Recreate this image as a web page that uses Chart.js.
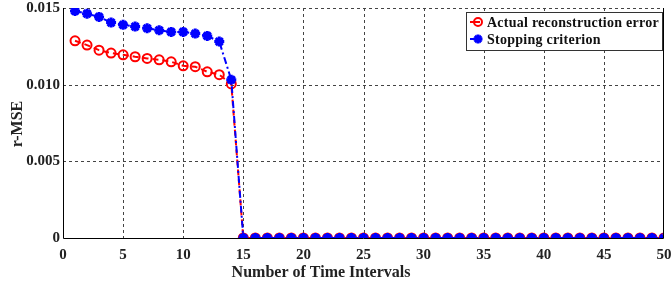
<!DOCTYPE html>
<html lang="en">
<head>
    <meta charset="UTF-8" />
    <title>r-MSE vs time intervals</title>
    <script src="https://cdn.jsdelivr.net/npm/chart.js"></script>
    <style>
        body { margin: 0; background: #fff; }
    </style>
</head>
<body>
    <canvas id="chart" width="672" height="290"></canvas>

    <script>
        const intervals = [1, 2, 3, 4, 5, 6, 7, 8, 9, 10, 11, 12, 13, 14, 15, 16, 17, 18, 19, 20,
            21, 22, 23, 24, 25, 26, 27, 28, 29, 30, 31, 32, 33, 34, 35, 36, 37, 38, 39, 40,
            41, 42, 43, 44, 45, 46, 47, 48, 49, 50];
        const actualError = [0.01286, 0.01258, 0.01225, 0.01206, 0.01195, 0.01182, 0.01171, 0.01162,
            0.01149, 0.01123, 0.01117, 0.01084, 0.01065, 0.01005,
            0, 0, 0, 0, 0, 0, 0, 0, 0, 0, 0, 0, 0, 0, 0, 0, 0, 0, 0, 0, 0, 0, 0, 0, 0, 0, 0, 0, 0, 0, 0, 0, 0, 0, 0, 0];
        const stopCriterion = [0.01481, 0.01463, 0.01442, 0.01405, 0.0139, 0.01379, 0.01368, 0.01355,
            0.01344, 0.01344, 0.01333, 0.01318, 0.01281, 0.01032,
            0, 0, 0, 0, 0, 0, 0, 0, 0, 0, 0, 0, 0, 0, 0, 0, 0, 0, 0, 0, 0, 0, 0, 0, 0, 0, 0, 0, 0, 0, 0, 0, 0, 0, 0, 0];
        const yTicks = [0, 0.005, 0.010, 0.015];
        const xTitle = 'Number of Time Intervals';
        const yTitle = 'r-MSE';

        const serif = "'Liberation Serif', 'Times New Roman', serif";

        // dashed grid under the data (top edge is dashed too)
        const gridPlugin = {
            id: 'mgrid',
            beforeDatasetsDraw(chart) {
                const { ctx, chartArea: a, scales: { x, y } } = chart;
                ctx.save();
                ctx.strokeStyle = '#444';
                ctx.lineWidth = 1;
                ctx.setLineDash([3, 3]);
                x.ticks.forEach(t => {
                    const px = Math.round(x.getPixelForValue(t.value)) + 0.5;
                    if (px <= a.left + 1 || px >= a.right - 1) return;
                    ctx.beginPath(); ctx.moveTo(px, a.top); ctx.lineTo(px, a.bottom); ctx.stroke();
                });
                y.ticks.forEach(t => {
                    const py = Math.round(y.getPixelForValue(t.value)) + 0.5;
                    if (py >= a.bottom - 1) return;
                    ctx.beginPath(); ctx.moveTo(a.left, py); ctx.lineTo(a.right, py); ctx.stroke();
                });
                ctx.restore();
            }
        };

        // axis lines, titles, legend
        const boxPlugin = {
            id: 'box',
            afterDraw(chart) {
                const { ctx, chartArea: a } = chart;
                ctx.save();
                ctx.strokeStyle = '#000';
                ctx.lineWidth = 1;
                ctx.beginPath();
                ctx.moveTo(a.left + 0.5, a.top);
                ctx.lineTo(a.left + 0.5, a.bottom + 0.5);
                ctx.lineTo(a.right - 0.5, a.bottom + 0.5);
                ctx.lineTo(a.right - 0.5, a.top);
                ctx.stroke();

                ctx.fillStyle = '#222';
                ctx.font = "bold 16px " + serif;
                ctx.textAlign = 'center';
                ctx.textBaseline = 'middle';
                ctx.fillText(xTitle, 321, 273);
                ctx.save();
                ctx.translate(18, 124);
                ctx.rotate(-Math.PI / 2);
                ctx.fillText(yTitle, 0, 0);
                ctx.restore();

                const lx = 466, ly = 12, lw = 196, lh = 38;
                ctx.fillStyle = '#fff';
                ctx.fillRect(lx, ly, lw, lh);
                ctx.strokeStyle = '#333';
                ctx.strokeRect(lx + 0.5, ly + 0.5, lw, lh);
                ctx.font = "bold 14px " + serif;
                ctx.textAlign = 'left';
                ctx.letterSpacing = '0.25px';
                chart.data.datasets.forEach((ds, i) => {
                    const cy = ly + 10 + i * 17;
                    ctx.strokeStyle = ds.borderColor;
                    ctx.lineWidth = 2;
                    ctx.beginPath();
                    ctx.moveTo(lx + 4, cy);
                    ctx.lineTo(lx + 14, cy);
                    ctx.stroke();
                    if (ds.pointStyle === 'circle') {
                        ctx.beginPath();
                        ctx.arc(lx + 12, cy, 4, 0, Math.PI * 2);
                        ctx.stroke();
                    } else {
                        ctx.lineWidth = 3;
                        for (let k = 0; k < 4; k++) {
                            const ang = k * Math.PI / 4;
                            ctx.beginPath();
                            ctx.moveTo(lx + 12 - 4.5 * Math.cos(ang), cy - 4.5 * Math.sin(ang));
                            ctx.lineTo(lx + 12 + 4.5 * Math.cos(ang), cy + 4.5 * Math.sin(ang));
                            ctx.stroke();
                        }
                    }
                    ctx.fillStyle = '#111';
                    ctx.fillText(ds.label, lx + 21, cy + 1);
                });
                ctx.restore();
            }
        };

        const toPts = vals => intervals.map((x, i) => ({ x, y: vals[i] }));

        new Chart(document.getElementById('chart'), {
            type: 'line',
            data: {
                datasets: [
                    {
                        label: 'Actual reconstruction error',
                        data: toPts(actualError),
                        borderColor: '#ff0000',
                        borderWidth: 2,
                        borderDash: [6, 4],
                        pointStyle: 'circle',
                        pointRadius: 4.5,
                        pointBorderWidth: 2,
                        pointBackgroundColor: 'rgba(0,0,0,0)',
                        pointBorderColor: '#ff0000',
                        order: 2
                    },
                    {
                        label: 'Stopping criterion',
                        data: toPts(stopCriterion),
                        borderColor: '#0000ff',
                        borderWidth: 2,
                        borderDash: [7, 3, 2, 3],
                        pointStyle: 'star',
                        pointRadius: 5,
                        pointBorderWidth: 3,
                        pointBackgroundColor: '#0000ff',
                        pointBorderColor: '#0000ff',
                        order: 1
                    }
                ]
            },
            options: {
                responsive: false,
                animation: false,
                layout: { padding: { top: 7, right: 5, left: 0, bottom: 0 } },
                plugins: { legend: { display: false }, tooltip: { enabled: false } },
                scales: {
                    x: {
                        type: 'linear', min: 0, max: 50,
                        ticks: { stepSize: 5, color: '#222', font: { family: serif, size: 15, weight: 'bold' }, padding: 8 },
                        grid: { display: false, tickLength: 0 },
                        border: { display: false },
                        afterFit: s => { s.height = 52; s.paddingLeft = 0; s.paddingRight = 0; }
                    },
                    y: {
                        type: 'linear', min: 0, max: 0.015,
                        afterBuildTicks: s => { s.ticks = yTicks.map(v => ({ value: v })); },
                        ticks: {
                            color: '#222', font: { family: serif, size: 15, weight: 'bold' }, padding: 3,
                            callback: v => v === 0 ? '0' : v.toFixed(3)
                        },
                        grid: { display: false, tickLength: 0 },
                        border: { display: false },
                        afterFit: s => { s.width = 63; s.paddingTop = 0; s.paddingBottom = 0; }
                    }
                }
            },
            plugins: [gridPlugin, boxPlugin]
        });
    </script>
</body>
</html>
